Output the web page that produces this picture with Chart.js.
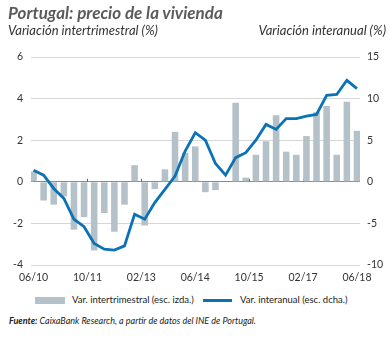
<!DOCTYPE html>
<html lang="es">
<head>
<meta charset="utf-8">
<script src="https://cdn.jsdelivr.net/npm/chart.js@4.4.1/dist/chart.umd.min.js"></script>
<style>
  body { margin: 0; background: #fff; font-family: Lato, "Open Sans", sans-serif; }
  #wrap { position: relative; width: 390px; height: 338px; overflow: hidden; }
  .title { position: absolute; left: 8px; top: 2px; font-size: 17px; font-weight: bold; font-style: italic; color: #5b5b5d; }
  .sub { position: absolute; top: 22px; font-size: 13px; font-style: italic; color: #333; }
  #chartBox { position: absolute; left: 0; top: 0; width: 390px; height: 290px; }
  .leg { position: absolute; top: 294px; font-size: 9.5px; color: #222; }
  .src { position: absolute; left: 9px; top: 315px; font-size: 9px; font-style: italic; color: #222; }
</style>
</head>
<body>
<div id="wrap">
  <div id="chartBox"><canvas id="housingChart"></canvas></div>
  <div class="title">Portugal: precio de la vivienda</div>
  <div class="sub" style="left:8px;">Variación intertrimestral (%)</div>
  <div class="sub" style="right:4px;">Variación interanual (%)</div>
  <div style="position:absolute;left:35px;top:297px;width:30px;height:7px;background:#b5c1c8;"></div>
  <div class="leg" style="left:72px;">Var. intertrimestral (esc. izda.)</div>
  <div style="position:absolute;left:203px;top:299px;width:29px;height:3px;background:#0b72b5;"></div>
  <div class="leg" style="left:240px;">Var. interanual (esc. dcha.)</div>
  <div class="src"><b>Fuente:</b> CaixaBank Research, a partir de datos del INE de Portugal.</div>
</div>
<script>
// quarterly data, 06/2010 .. 06/2018
const quarterly = [0.5, -0.9, -1.1, -0.7, -2.3, -1.7, -3.3, -1.5, -2.4, -1.1, 0.8, -2.1, -0.35, 0.6, 2.4, 1.4, 1.7,
                   -0.5, -0.4, 0, 3.8, 0.2, 1.3, 1.95, 3.2, 1.45, 1.3, 2.2, 3.35, 3.65, 1.3, 3.85, 2.45];
const yearly = [1.4, 0.8, -0.8, -2.0, -4.5, -5.4, -7.4, -8.1, -8.2, -7.7, -3.9, -4.5, -2.5, -0.9, 0.7, 3.7, 5.9,
                5.0, 2.2, 0.8, 2.9, 3.5, 5.0, 6.9, 6.3, 7.6, 7.6, 7.9, 8.1, 10.4, 10.5, 12.2, 11.2];
const tickLabels = ['06/10', '10/11', '02/13', '06/14', '10/15', '02/17', '06/18'];
// one label every 16 months = 16/3 quarters
const tickPos = tickLabels.map((t, i) => i * 16 / 3);

const barPts = quarterly.map((v, i) => ({ x: i, y: v }));
const linePts = yearly.map((v, i) => ({ x: i, y: v }));

const fontSpec = { family: 'Lato', size: 10.5 };

// date labels + small marks on the zero line
const dateAxis = {
  id: 'dateAxis',
  beforeDatasetsDraw(chart) {
    const ctx = chart.ctx;
    const x = chart.scales.x;
    const y0 = chart.scales.yL.getPixelForValue(0);
    ctx.save();
    ctx.strokeStyle = '#666';
    ctx.lineWidth = 1;
    tickPos.forEach(p => {
      const px = Math.round(x.getPixelForValue(p)) + 0.5;
      ctx.beginPath();
      ctx.moveTo(px, y0 - 3);
      ctx.lineTo(px, y0);
      ctx.stroke();
    });
    ctx.restore();
  },
  afterDraw(chart) {
    const ctx = chart.ctx;
    const x = chart.scales.x;
    const y = chart.chartArea.bottom + 13;
    ctx.save();
    ctx.fillStyle = '#333';
    ctx.font = '10.5px Lato';
    ctx.textAlign = 'center';
    ctx.textBaseline = 'middle';
    tickPos.forEach((p, i) => ctx.fillText(tickLabels[i], x.getPixelForValue(p), y));
    ctx.restore();
  }
};

new Chart(document.getElementById('housingChart'), {
  data: {
    datasets: [
      {
        type: 'line',
        data: linePts,
        yAxisID: 'yR',
        borderColor: '#0b72b5',
        borderWidth: 2.8,
        pointRadius: 0,
        tension: 0,
        order: 0
      },
      {
        type: 'bar',
        data: barPts,
        yAxisID: 'yL',
        backgroundColor: '#b5c1c8',
        barPercentage: 0.65,
        categoryPercentage: 1,
        order: 1
      }
    ]
  },
  options: {
    responsive: true,
    maintainAspectRatio: false,
    animation: false,
    layout: { padding: { top: 57, left: 0, right: 0, bottom: 0 } },
    plugins: { legend: { display: false }, tooltip: { enabled: false } },
    scales: {
      x: {
        type: 'linear',
        min: -0.25,
        max: 32.3,
        offset: false,
        grid: { display: false, offset: false },
        border: { display: false },
        afterFit: s => { s.height = 25; },
        ticks: { display: false }
      },
      yL: {
        position: 'left',
        min: -4,
        max: 6,
        afterFit: s => { s.width = 31; },
        border: { display: false },
        grid: {
          drawTicks: false,
          color: c => c.tick.value === 0 ? '#8c8c8c' : '#d6d6d6'
        },
        ticks: { stepSize: 2, padding: 8, color: '#333', font: fontSpec }
      },
      yR: {
        position: 'right',
        min: -10,
        max: 15,
        afterFit: s => { s.width = 30; },
        border: { display: false },
        grid: { display: false, drawTicks: false },
        ticks: { stepSize: 5, padding: 7, color: '#333', font: fontSpec }
      }
    }
  },
  plugins: [dateAxis]
});
</script>
</body>
</html>
